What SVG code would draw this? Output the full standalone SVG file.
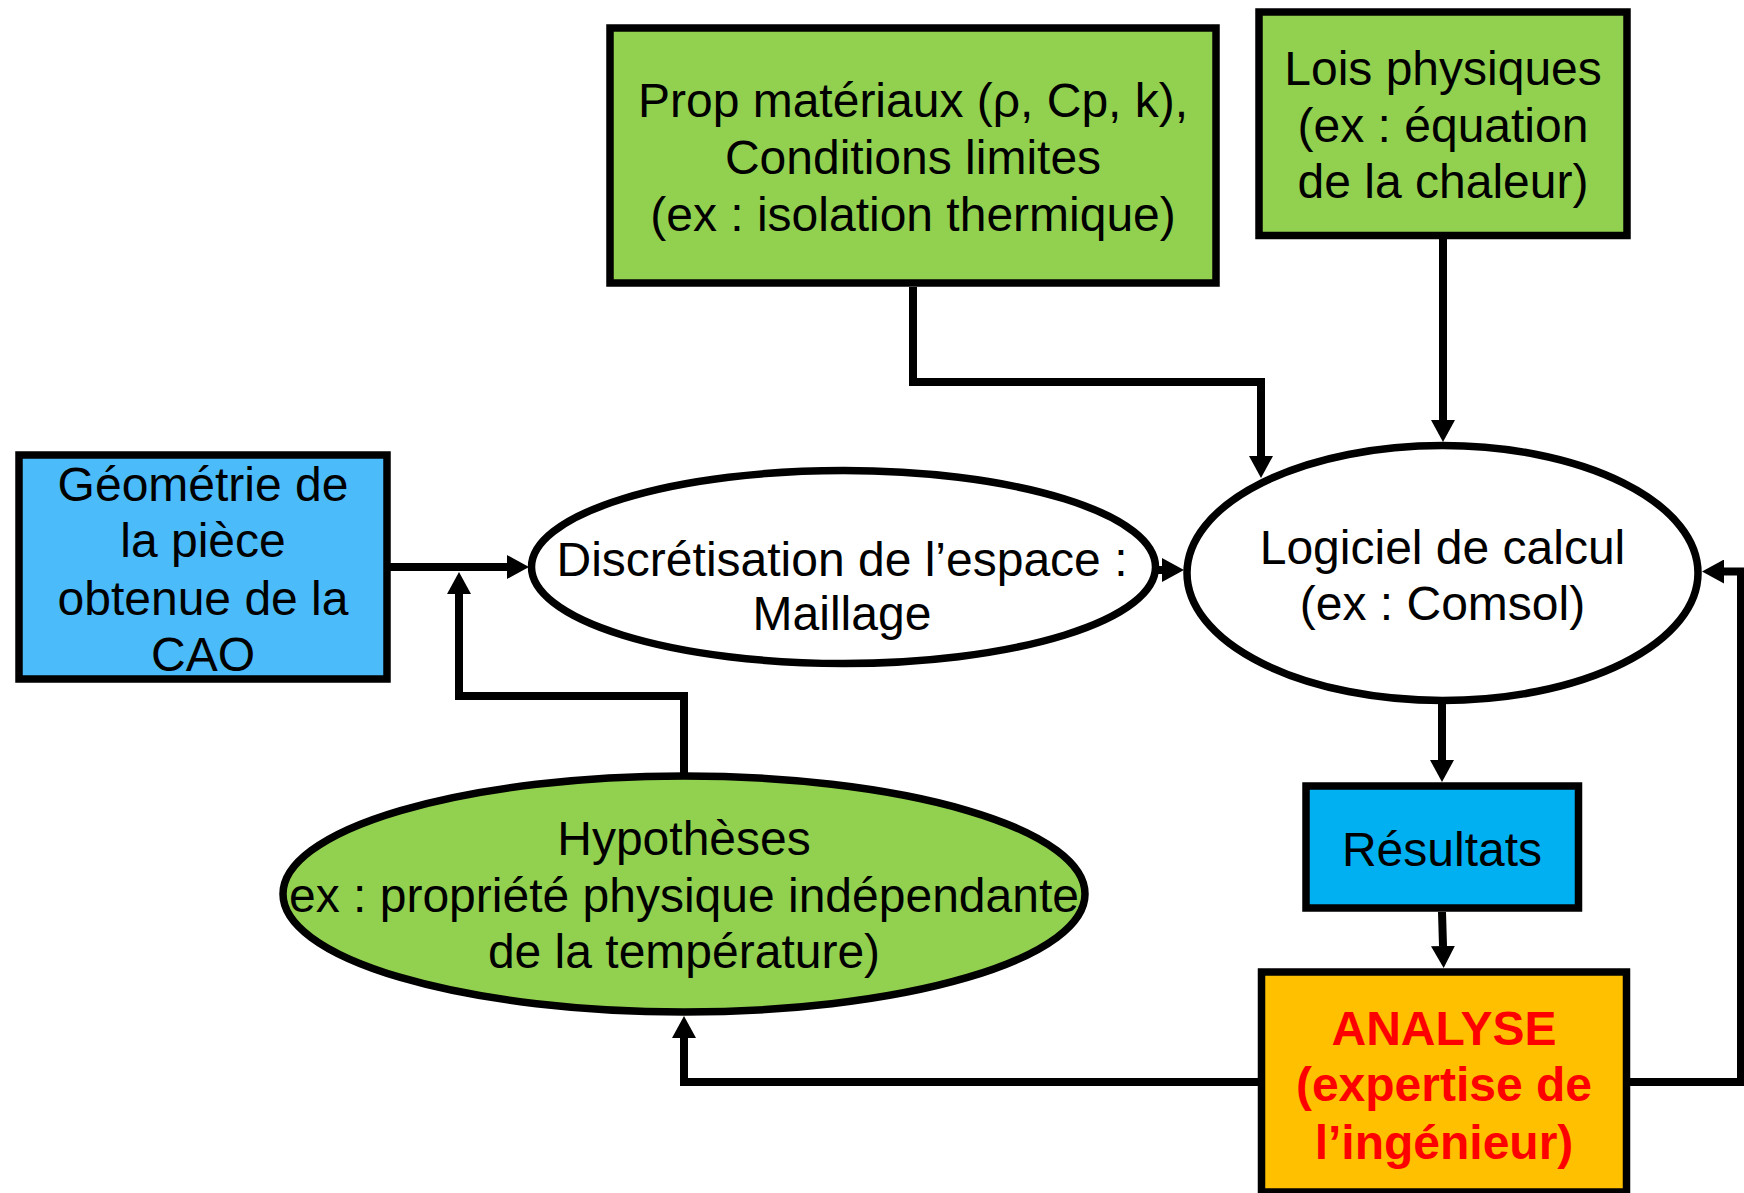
<svg xmlns="http://www.w3.org/2000/svg" width="1744" height="1193" viewBox="0 0 1744 1193">
<style>
  .box { stroke: #000; stroke-width: 7.5; }
  .ell { stroke: #000; stroke-width: 7.5; }
  .t { font-family: "Liberation Sans", Arial, sans-serif; font-size: 48px; fill: #000; text-anchor: middle; }
  .tb { font-family: "Liberation Sans", Arial, sans-serif; font-size: 48px; font-weight: bold; fill: #FF0000; text-anchor: middle; }
  .conn { fill: none; stroke: #000; stroke-width: 8; stroke-linejoin: miter; stroke-linecap: butt; }
</style>
<defs>
  <marker id="arr" viewBox="0 0 22 24" refX="0" refY="12" markerWidth="22" markerHeight="24" markerUnits="userSpaceOnUse" orient="auto">
    <path d="M0,0 L22,12 L0,24 Z" fill="#000"/>
  </marker>
</defs>
<rect width="1744" height="1193" fill="#fff"/>

<g id="connectors">
  <path class="conn" d="M390,567 H507" marker-end="url(#arr)"/>
  <path class="conn" d="M684,775 V696 H459 V594" marker-end="url(#arr)"/>
  <path class="conn" d="M1157,570 H1162" marker-end="url(#arr)"/>
  <path class="conn" d="M913,287 V382 H1261 V456" marker-end="url(#arr)"/>
  <path class="conn" d="M1443,239 V420" marker-end="url(#arr)"/>
  <path class="conn" d="M1442,703 V760" marker-end="url(#arr)"/>
  <path class="conn" d="M1442,912 L1443,946" marker-end="url(#arr)"/>
  <path class="conn" d="M1261,1082 H684 V1038" marker-end="url(#arr)"/>
  <path class="conn" d="M1630,1082 H1741 V571.5 H1724" marker-end="url(#arr)"/>
</g>

<g id="geometrie">
  <rect class="box" x="19" y="455" width="368" height="224" fill="#4CBBF9"/>
  <text class="t" x="203" y="501">Géométrie de</text>
  <text class="t" x="203" y="557">la pièce</text>
  <text class="t" x="203" y="615">obtenue de la</text>
  <text class="t" x="203" y="671">CAO</text>
</g>

<g id="prop">
  <rect class="box" x="610" y="28" width="606" height="255" fill="#92D050"/>
  <text class="t" x="913" y="117">Prop matériaux (ρ, Cp, k),</text>
  <text class="t" x="913" y="174">Conditions limites</text>
  <text class="t" x="913" y="231">(ex : isolation thermique)</text>
</g>

<g id="lois">
  <rect class="box" x="1259" y="12" width="368" height="223.5" fill="#92D050"/>
  <text class="t" x="1443" y="85">Lois physiques</text>
  <text class="t" x="1443" y="142">(ex : équation</text>
  <text class="t" x="1443" y="198">de la chaleur)</text>
</g>

<g id="discretisation">
  <ellipse class="ell" cx="843.5" cy="567" rx="312" ry="96.5" fill="#fff"/>
  <text class="t" x="842" y="576">Discrétisation de l’espace :</text>
  <text class="t" x="842" y="630">Maillage</text>
</g>

<g id="logiciel">
  <ellipse class="ell" cx="1442.5" cy="573" rx="255.5" ry="127.5" fill="#fff"/>
  <text class="t" x="1442.5" y="564">Logiciel de calcul</text>
  <text class="t" x="1442.5" y="620">(ex : Comsol)</text>
</g>

<g id="resultats">
  <rect class="box" x="1306" y="786" width="272.5" height="122" fill="#00B0F0"/>
  <text class="t" x="1442" y="866">Résultats</text>
</g>

<g id="analyse">
  <rect class="box" x="1261.5" y="972" width="365" height="220" fill="#FFC000"/>
  <text class="tb" x="1444" y="1045">ANALYSE</text>
  <text class="tb" x="1444" y="1101">(expertise de</text>
  <text class="tb" x="1444" y="1159">l’ingénieur)</text>
</g>

<g id="hypotheses">
  <ellipse class="ell" cx="684" cy="894" rx="401" ry="118" fill="#92D050"/>
  <text class="t" x="684" y="855">Hypothèses</text>
  <text class="t" x="684" y="912">ex : propriété physique indépendante</text>
  <text class="t" x="684" y="968">de la température)</text>
</g>
</svg>
